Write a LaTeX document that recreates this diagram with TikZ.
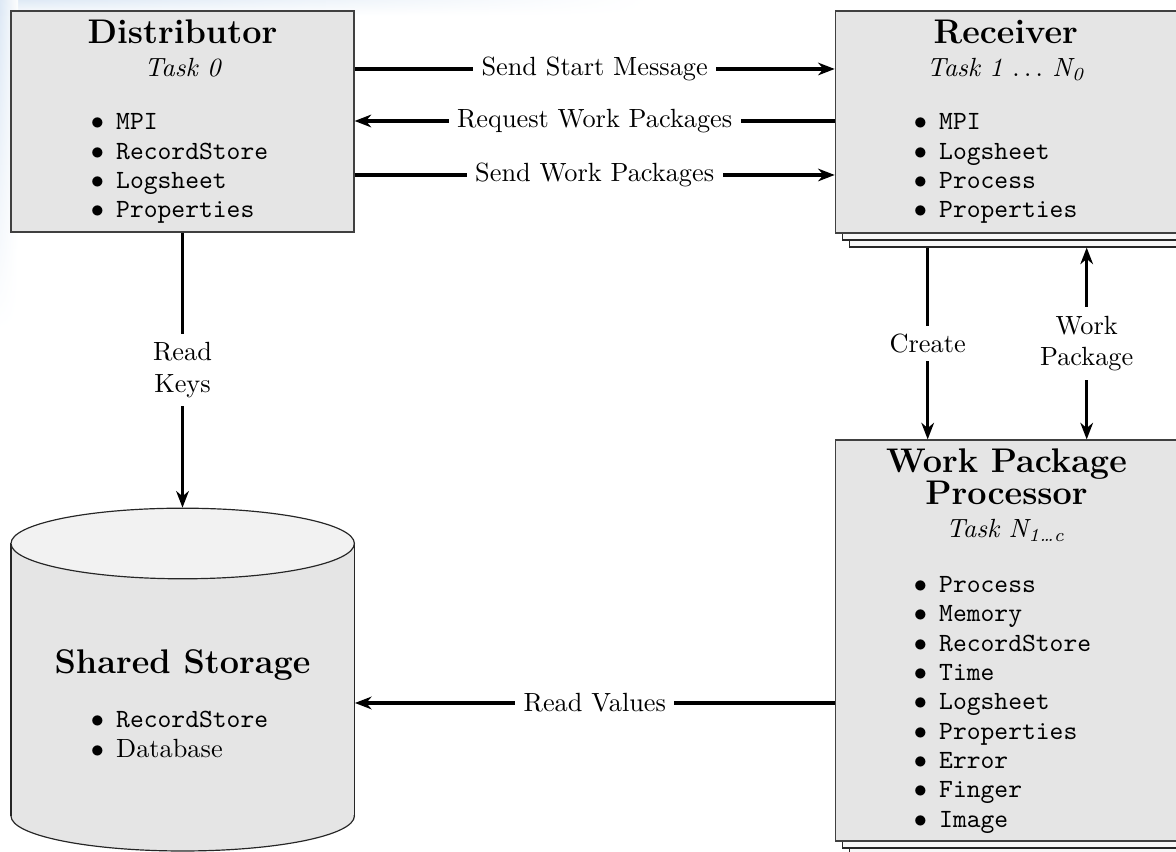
\documentclass[tikz,border=0pt]{standalone}
\usetikzlibrary{arrows.meta,fit,calc,fadings}

\definecolor{boxfill}{gray}{0.9}
\definecolor{capfill}{gray}{0.95}
\definecolor{haze}{RGB}{222,233,245}

% bullet list set as a top-aligned table, first row on the node's base line
\newcommand{\bulletlist}[1]{{\renewcommand{\arraystretch}{0.9275}%
  \begin{tabular}[t]{@{}c@{\hspace{4.6pt}}l@{}}#1\end{tabular}}}
\newcommand{\bi}[1]{$\bullet$ & \texttt{#1}\\}

\tikzset{
  box/.style={draw=black!75, line width=0.45pt, fill=boxfill, inner sep=0pt},
  copybox/.style={draw=black!85, line width=0.45pt, fill=black!3, inner sep=0pt},
  area/.style={inner sep=0pt},
  title/.style={font=\fontsize{13}{12.3}\selectfont\bfseries, anchor=base, align=center, inner sep=0pt},
  task/.style={font=\itshape, anchor=base, inner sep=0pt},
  items/.style={anchor=base west, inner sep=0pt},
  conn/.style={line width=1.2pt, -{Stealth[length=6.3pt,width=4.8pt,inset=2pt]}},
  biconn/.style={line width=1.2pt, {Stealth[length=6.3pt,width=4.8pt,inset=2pt]}-{Stealth[length=6.3pt,width=4.8pt,inset=2pt]}},
  lbl/.style={fill=white, inner sep=3.2pt, align=center}
}

\begin{document}
\begin{tikzpicture}[x=0.38pt, y=-0.38pt]
\useasboundingbox (0,0) rectangle (1176,852);
\clip (0,0) rectangle (1176,852);

% soft tint along the upper and left margins
\shade[top color=haze, bottom color=white, path fading=east] (0,0) rectangle (650,16);
\shade[left color=haze, right color=white, path fading=south] (0,0) rectangle (18,330);

% ---------------- Distributor ----------------
\node[box, fit={(11,11) (354,232)}] (dist) {};
\node[title] (distT) at (182.5,44) {Distributor};
\node[task] (distK) at (182.5,76.5) {Task 0};
\node[items] (distL) at (90.4,130) {\bulletlist{\bi{MPI}\bi{RecordStore}\bi{Logsheet}\bi{Properties}}};

% ---------------- Receiver (stacked) ----------------
\node[copybox, fit={(849.3,25) (1191,247)}] (recC) {};
\node[copybox, fit={(842.3,18) (1184,240)}] (recB) {};
\node[box, fit={(835.3,11) (1177.5,233)}] (rec) {};
\node[title] (recT) at (1005.7,44) {Receiver};
\node[task] (recK) at (1005.7,76.5) {Task 1 $\ldots$\ N\textsubscript{0}};
\node[items] (recL) at (913.4,130) {\bulletlist{\bi{MPI}\bi{Logsheet}\bi{Process}\bi{Properties}}};

% ---------------- Work Package Processor (stacked) ----------------
\node[copybox, fit={(849.3,454) (1191,855)}] (wppC) {};
\node[copybox, fit={(842.3,447) (1184,848)}] (wppB) {};
\node[box, fit={(835.3,440) (1177.5,841)}] (wpp) {};
\node[title] (wppT) at (1006.5,505) {Work Package\\Processor};
\node[task] (wppK) at (1005.7,538) {Task N\textsubscript{1\dots c}};
\node[items] (wppL) at (913.4,592.7) {\bulletlist{\bi{Process}\bi{Memory}\bi{RecordStore}\bi{Time}\bi{Logsheet}\bi{Properties}\bi{Error}\bi{Finger}\bi{Image}}};

% ---------------- Shared Storage (cylinder) ----------------
\fill[boxfill] (11,543.5) rectangle (354.4,816);
\fill[boxfill] (182.7,816) ellipse [x radius=171.7, y radius=35];
\begin{scope}
  \clip (0,816) rectangle (400,900);
  \draw[black!85, line width=0.45pt] (182.7,816) ellipse [x radius=171.7, y radius=35];
\end{scope}
\draw[black!85, line width=0.45pt] (11,543.5) -- (11,816);
\draw[black!85, line width=0.45pt] (354.4,543.5) -- (354.4,816);
\filldraw[fill=capfill, draw=black!85, line width=0.45pt] (182.7,543.5) ellipse [x radius=171.7, y radius=35.3];
\node[area, fit={(11,508.2) (354.4,851)}] (store) {};
\node[title] (storeT) at (182.5,673.3) {Shared Storage};
\node[items] (storeL) at (90.4,728) {{\renewcommand{\arraystretch}{0.9275}%
  \begin{tabular}[t]{@{}c@{\hspace{4.6pt}}l@{}}$\bullet$ & \texttt{RecordStore}\\ $\bullet$ & Database\\\end{tabular}}};

% ---------------- connectors ----------------
\coordinate (ySend) at (0,69);
\coordinate (yReq) at (0,121);
\coordinate (yWork) at (0,175);
\coordinate (yVal) at (0,703);
\coordinate (xCreate) at (927.7,0);
\coordinate (xPkg) at (1086.7,0);

\draw[conn] (dist.east |- ySend) -- (rec.west |- ySend)
  node[midway, lbl] {Send Start Message};
\draw[conn] (rec.west |- yReq) -- (dist.east |- yReq)
  node[midway, lbl] {Request Work Packages};
\draw[conn] (dist.east |- yWork) -- (rec.west |- yWork)
  node[midway, lbl] {Send Work Packages};

\draw[conn] (dist.south) -- (dist.south |- store.north)
  node[midway, lbl] {Read\\Keys};

\draw[conn] (xCreate |- recC.south) -- (xCreate |- wpp.north)
  node[midway, lbl] {Create};
\draw[biconn] (xPkg |- recC.south) -- (xPkg |- wpp.north)
  node[midway, lbl] {Work\\Package};

\draw[conn] (wpp.west |- yVal) -- (store.east |- yVal)
  node[midway, lbl] {Read Values};
\end{tikzpicture}
\end{document}
